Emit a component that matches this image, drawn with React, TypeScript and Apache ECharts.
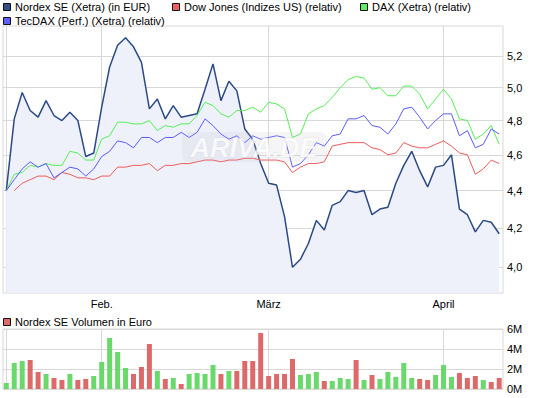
import React, { useEffect, useRef } from "react";
import * as echarts from "echarts";

// trading-day index 0 = 16 Jan, 63 sessions
const monthIdx = [12, 33, 55];
const monthLabels = ["Feb.", "März", "April"];

const nordex = [
  4.40, 4.81, 4.97, 4.86, 4.82, 4.92, 4.83, 4.80, 4.85, 4.80,
  4.59, 4.61, 4.88, 5.13, 5.27, 5.32, 5.26, 5.16, 4.87, 4.93,
  4.81, 4.89, 4.82, 4.83, 4.84, 4.99, 5.15, 4.92, 5.04, 4.98,
  4.75, 4.69, 4.55, 4.44, 4.43, 4.26, 4.00, 4.04, 4.12, 4.24,
  4.19, 4.32, 4.34, 4.40, 4.39, 4.40, 4.27, 4.30, 4.31, 4.44,
  4.54, 4.62, 4.51, 4.42, 4.53, 4.54, 4.60, 4.30, 4.27, 4.18,
  4.24, 4.23, 4.17,
];
const dowJones: (number | null)[] = [
  null, 4.40, 4.44, 4.46, 4.48, 4.48, 4.46, 4.50, 4.49, 4.47,
  4.47, 4.46, 4.48, 4.48, 4.53, 4.53, 4.54, 4.54, 4.55, 4.51,
  4.54, 4.54, 4.55, 4.55, 4.56, 4.57, 4.57, 4.56, 4.57, 4.57,
  4.58, 4.58, 4.57, 4.57, 4.57, 4.56, 4.50, 4.53, 4.55, 4.55,
  4.56, 4.65, 4.66, 4.67, 4.67, 4.67, 4.64, 4.63, 4.60, 4.61,
  4.67, 4.65, 4.64, 4.64, 4.66, 4.68, 4.65, 4.61, 4.60, 4.49,
  4.52, 4.57, 4.55,
];
const dax = [
  4.40, 4.49, 4.50, 4.54, 4.53, 4.55, 4.54, 4.54, 4.62, 4.61,
  4.57, 4.57, 4.69, 4.71, 4.79, 4.79, 4.78, 4.78, 4.80, 4.74,
  4.77, 4.76, 4.78, 4.78, 4.83, 4.91, 4.89, 4.84, 4.82, 4.86,
  4.86, 4.88, 4.85, 4.91, 4.90, 4.87, 4.70, 4.72, 4.84, 4.87,
  4.89, 4.94, 5.00, 5.05, 5.07, 5.06, 4.99, 5.00, 4.95, 4.95,
  5.01, 5.01, 4.96, 4.87, 4.93, 4.99, 4.93, 4.81, 4.80, 4.69,
  4.72, 4.77, 4.66,
];
const tecDax = [
  4.40, 4.46, 4.52, 4.56, 4.53, 4.55, 4.47, 4.50, 4.53, 4.52,
  4.48, 4.52, 4.59, 4.62, 4.68, 4.67, 4.64, 4.70, 4.70, 4.67,
  4.70, 4.70, 4.73, 4.70, 4.73, 4.81, 4.77, 4.72, 4.69, 4.71,
  4.67, 4.71, 4.69, 4.70, 4.71, 4.70, 4.53, 4.55, 4.60, 4.67,
  4.65, 4.71, 4.72, 4.81, 4.81, 4.83, 4.77, 4.76, 4.72, 4.78,
  4.87, 4.88, 4.82, 4.75, 4.80, 4.84, 4.84, 4.71, 4.74, 4.64,
  4.66, 4.75, 4.72,
];
// volume in million EUR
const volume = [
  0.6, 2.6, 2.8, 2.9, 1.7, 1.5, 1.1, 0.9, 1.5, 0.9,
  1.0, 1.3, 2.7, 5.1, 3.7, 2.1, 1.5, 2.2, 4.5, 1.8,
  1.0, 1.1, 0.5, 1.5, 1.6, 1.5, 2.4, 1.5, 1.8, 1.8,
  2.8, 2.8, 5.6, 1.3, 1.5, 1.5, 3.0, 1.4, 1.5, 1.7,
  0.8, 0.8, 1.1, 1.0, 2.9, 0.9, 1.4, 1.0, 1.7, 1.2,
  2.6, 1.1, 1.0, 0.9, 1.4, 2.4, 1.2, 1.6, 1.1, 1.3,
  0.9, 0.7, 1.1,
];
const priceTicks = [4.0, 4.2, 4.4, 4.6, 4.8, 5.0, 5.2];
const volumeTicks = [0, 2, 4, 6];

const FONT = "Liberation Sans, Arial, sans-serif";
const GRID_COLOR = "#d8d8d8";
const C_NORDEX = "#2b4a85";
const C_DOW = "#f05a5a";
const C_DAX = "#55ee55";
const C_TEC = "#5a5aff";
const C_UP = "#6ad86a";
const C_DOWN = "#dd6a6a";

const X_MIN = -0.415;
const X_MAX = 62.48;
const Y_MIN = 1.35437;
const Y_MAX = 1.68604;

function toPairs(arr: (number | null)[]) {
  const out: [number, number][] = [];
  arr.forEach((v, i) => {
    if (v != null) out.push([i, Math.log(v)]);
  });
  return out;
}

function legendItem(x: number, y: number, color: string, label: string) {
  return [
    {
      type: "rect",
      shape: { x: x + 0.5, y: y + 0.5, width: 7, height: 7 },
      style: { fill: color, stroke: "#111", lineWidth: 1 },
      z: 10,
    },
    {
      type: "text",
      x: x + 12,
      y: y + 4,
      style: {
        text: label,
        font: `11px ${FONT}`,
        fill: "#000",
        verticalAlign: "middle",
        align: "left",
      },
      z: 10,
    },
  ];
}

export default function App() {
  const ref = useRef<HTMLDivElement>(null);

  useEffect(() => {
    if (!ref.current) return;
    const chart = echarts.init(ref.current, null, { renderer: "svg" });

    const xAxisBase = (gridIndex: number, showLabels: boolean) => ({
      type: "value",
      gridIndex,
      min: X_MIN,
      max: X_MAX,
      axisLine: { show: false },
      axisTick: { show: false, customValues: [0, ...monthIdx] },
      splitLine: { show: true, lineStyle: { color: GRID_COLOR, width: 1 } },
      axisLabel: {
        show: showLabels,
        customValues: monthIdx,
        margin: 5,
        fontSize: 11,
        fontFamily: FONT,
        color: "#000",
        formatter: (v: number) => {
          const k = monthIdx.indexOf(Math.round(v));
          return k >= 0 ? monthLabels[k] : "";
        },
      },
    });

    const volData = volume.map((v, i) => {
      const up = i === 0 || nordex[i] >= nordex[i - 1];
      return { value: [i, v * 1e6], itemStyle: { color: up ? C_UP : C_DOWN } };
    });

    const option: any = {
      animation: false,
      backgroundColor: "#fff",
      grid: [
        { left: 3, top: 26, width: 500, height: 267, show: true, borderColor: GRID_COLOR, borderWidth: 1 },
        { left: 3, top: 329, width: 500, height: 60, show: true, borderColor: GRID_COLOR, borderWidth: 1 },
      ],
      xAxis: [xAxisBase(0, true), xAxisBase(1, false)],
      yAxis: [
        {
          type: "value",
          gridIndex: 0,
          position: "right",
          min: Y_MIN,
          max: Y_MAX,
          axisLine: { show: false },
          axisTick: { show: false, customValues: priceTicks.map((t) => Math.log(t)) },
          splitLine: { show: true, lineStyle: { color: GRID_COLOR, width: 1 } },
          axisLabel: {
            customValues: priceTicks.map((t) => Math.log(t)),
            margin: 4,
            fontSize: 11,
            fontFamily: FONT,
            color: "#000",
            formatter: (v: number) => Math.exp(v).toFixed(1).replace(".", ","),
          },
        },
        {
          type: "value",
          gridIndex: 1,
          position: "right",
          min: 0,
          max: 6e6,
          interval: 2e6,
          axisLine: { show: false },
          axisTick: { show: false },
          splitLine: { show: true, lineStyle: { color: GRID_COLOR, width: 1 } },
          axisLabel: {
            margin: 4,
            fontSize: 11,
            fontFamily: FONT,
            color: "#000",
            formatter: (v: number) => `${Math.round(v / 1e6)}M`,
            customValues: volumeTicks.map((t) => t * 1e6),
          },
        },
      ],
      series: [
        {
          name: "Nordex SE (Xetra) (in EUR)",
          type: "line",
          xAxisIndex: 0,
          yAxisIndex: 0,
          data: toPairs(nordex),
          symbol: "none",
          lineStyle: { color: C_NORDEX, width: 1.5 },
          areaStyle: { color: "#eef1f9", opacity: 1, origin: "start" },
          z: 2,
        },
        {
          name: "Dow Jones (Indizes US) (relativ)",
          type: "line",
          data: toPairs(dowJones),
          symbol: "none",
          lineStyle: { color: C_DOW, width: 1 },
          z: 3,
        },
        {
          name: "DAX (Xetra) (relativ)",
          type: "line",
          data: toPairs(dax),
          symbol: "none",
          lineStyle: { color: C_DAX, width: 1 },
          z: 3,
        },
        {
          name: "TecDAX (Perf.) (Xetra) (relativ)",
          type: "line",
          data: toPairs(tecDax),
          symbol: "none",
          lineStyle: { color: C_TEC, width: 1 },
          z: 3,
        },
        {
          name: "Nordex SE Volumen in Euro",
          type: "bar",
          xAxisIndex: 1,
          yAxisIndex: 1,
          data: volData,
          barWidth: 5,
        },
      ],
      graphic: [
        {
          type: "rect",
          shape: { x: 182, y: 132, width: 145, height: 30, r: 7 },
          style: { fill: "rgba(190,190,200,0.16)" },
          z: 50,
        },
        {
          type: "text",
          x: 254,
          y: 148,
          style: {
            text: "ARIVA.DE",
            font: `italic bold 27px ${FONT}`,
            fill: "rgba(255,255,255,0.75)",
            stroke: "rgba(200,200,210,0.35)",
            lineWidth: 1,
            align: "center",
            verticalAlign: "middle",
          },
          z: 51,
        },
        ...legendItem(3, 3, "#334f88", "Nordex SE (Xetra) (in EUR)"),
        ...legendItem(172, 3, "#ee5f5f", "Dow Jones (Indizes US) (relativ)"),
        ...legendItem(360, 3, "#5fef5f", "DAX (Xetra) (relativ)"),
        ...legendItem(3, 17, "#5f5fff", "TecDAX (Perf.) (Xetra) (relativ)"),
        ...legendItem(3, 318, "#dd6a6a", "Nordex SE Volumen in Euro"),
      ],
    };

    chart.setOption(option);
    return () => chart.dispose();
  }, []);

  return (
    <div
      ref={ref}
      style={{ position: "absolute", left: 0, top: 0, width: 545, height: 398 }}
    />
  );
}
